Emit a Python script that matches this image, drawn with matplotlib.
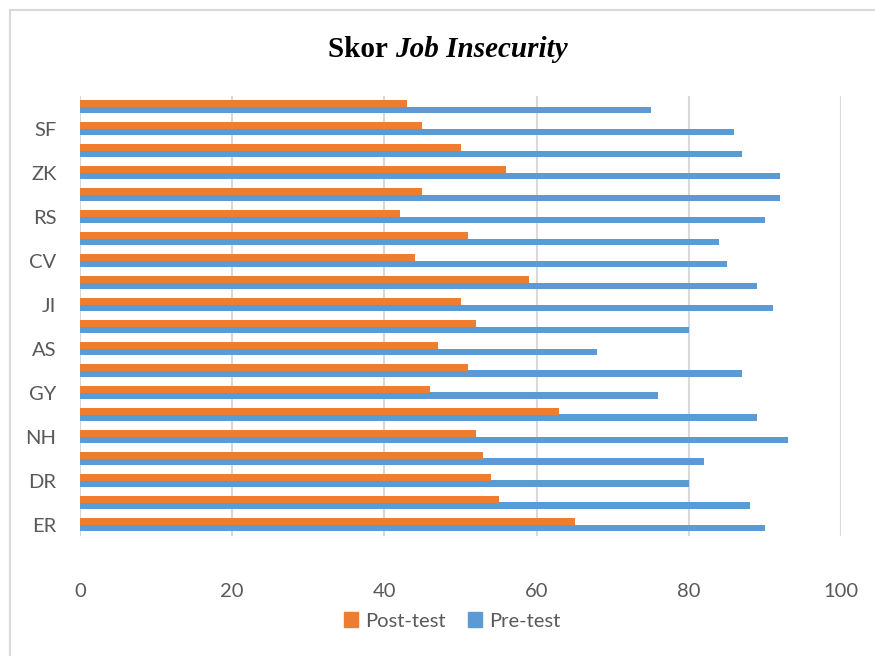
import matplotlib
matplotlib.use("Agg")
import matplotlib.pyplot as plt
from matplotlib.patches import Patch
import numpy as np

# categories listed bottom -> top; Excel only labels every other one
categories = ["ER", "", "DR", "", "NH", "", "GY", "", "AS", "",
              "JI", "", "CV", "", "RS", "", "ZK", "", "SF", ""]
post_test = [65, 55, 54, 53, 52, 63, 46, 51, 47, 52,
             50, 59, 44, 51, 42, 45, 56, 50, 45, 43]
pre_test = [90, 88, 80, 82, 93, 89, 76, 87, 68, 80,
            91, 89, 85, 84, 90, 92, 92, 87, 86, 75]
x_ticks = [0, 20, 40, 60, 80, 100]

ORANGE = "#ED7D31"
BLUE = "#5B9BD5"
GRID = "#D9D9D9"
TXT = "#595959"
FONT = "Lato"
FS = 14.5

W, H = 875, 656
fig = plt.figure(figsize=(W / 100, H / 100), dpi=100)
ax = fig.add_axes([80 / W, 1 - 535.5 / H, (841 - 80) / W, (535.5 - 95.5) / H])

y = np.arange(len(categories))
bh = 0.28
ax.barh(y - bh / 2, pre_test, height=bh, color=BLUE, label="Pre-test", zorder=3)
ax.barh(y + bh / 2, post_test, height=bh, color=ORANGE, label="Post-test", zorder=3)

ax.set_xlim(0, 100)
ax.set_ylim(-0.5, len(categories) - 0.5)
ax.set_xticks(x_ticks)
ax.set_xticklabels([str(v) for v in x_ticks], fontsize=FS, color=TXT, family=FONT)
ax.set_yticks(y)
ax.set_yticklabels(categories, fontsize=FS, color=TXT, family=FONT)
ax.tick_params(axis="x", length=0, pad=34)
ax.tick_params(axis="y", length=0, pad=17)
ax.grid(axis="x", color=GRID, lw=1.5, zorder=0)
for s in ax.spines.values():
    s.set_visible(False)

# outer chart border (top and left visible in the reference)
fig.add_artist(plt.Line2D([9.5 / W, 1], [1 - 9.5 / H] * 2, color=GRID, lw=1.5))
fig.add_artist(plt.Line2D([9.5 / W] * 2, [0, 1 - 9.5 / H], color=GRID, lw=1.5))

# title: "Skor " bold + "Job Insecurity" bold italic, centered together
t1 = fig.text(0, 0, "Skor ", family="Liberation Serif", weight="bold", fontsize=21)
t2 = fig.text(0, 0, "Job Insecurity", family="Liberation Serif", weight="bold",
              style="italic", fontsize=21)
fig.canvas.draw()
r = fig.canvas.get_renderer()
w1 = t1.get_window_extent(r).width
w2 = t2.get_window_extent(r).width
x0 = 448 - (w1 + w2) / 2
yb = 1 - 57 / H
t1.set_position((x0 / W, yb))
t2.set_position(((x0 + w1) / W, yb))
t1.set_va("baseline")
t2.set_va("baseline")

handles = [Patch(color=ORANGE, label="Post-test"), Patch(color=BLUE, label="Pre-test")]
fig.legend(handles=handles, loc="center", bbox_to_anchor=(452 / W, 1 - 621 / H),
           ncol=2, frameon=False, handlelength=0.7, handleheight=0.7,
           handletextpad=0.35, columnspacing=1.1,
           prop={"family": FONT, "size": FS}, labelcolor=TXT)

fig.savefig("out.png", dpi=100)
